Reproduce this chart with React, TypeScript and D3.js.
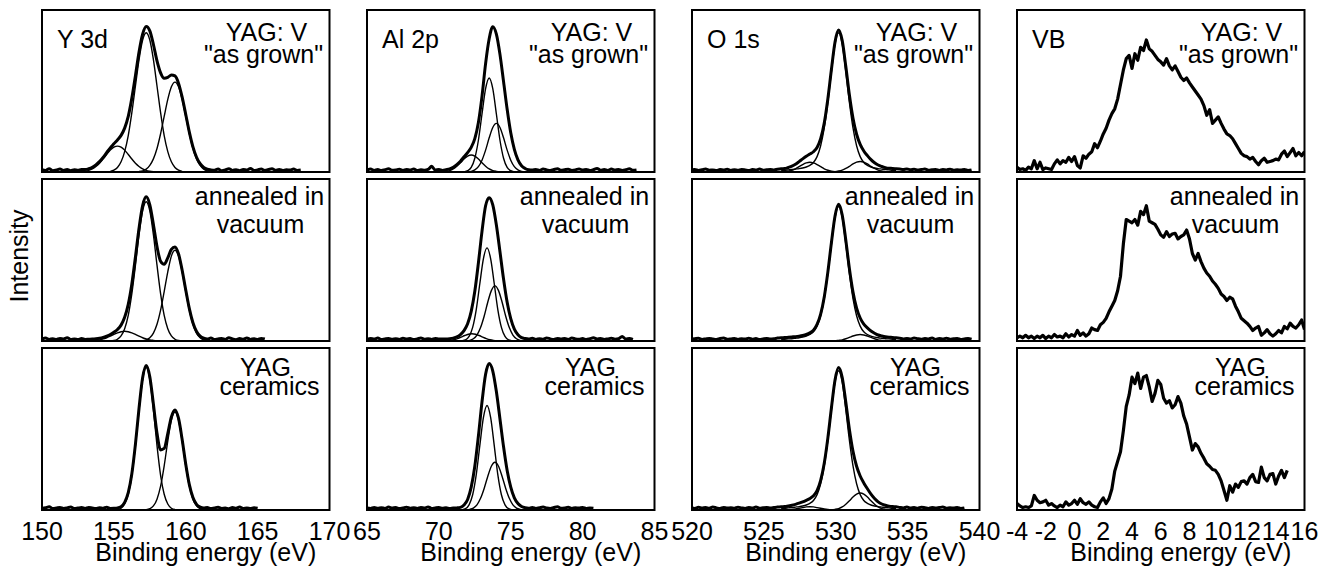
import React from "react";
import * as d3 from "d3";

type Pt = [number, number];

// values sampled on a fixed energy grid (start, step)
const sampled = (start: number, step: number, values: number[]): Pt[] =>
  values.map((v, i) => [start + i * step, v]);

// ---------- Y 3d ----------
const y3dTicks = [150, 155, 160, 165, 170];

const y3dGrown = sampled(150, 0.25, [
  0.015, 0.01, 0.02, 0.008, 0.012, 0.018, 0.01, 0.015, 0.008, 0.014, 0.011, 0.016, 0.015, 0.02, 0.029, 0.044,
  0.064, 0.09, 0.12, 0.149, 0.174, 0.198, 0.226, 0.271, 0.343, 0.456, 0.595, 0.741, 0.851, 0.898, 0.871, 0.787,
  0.686, 0.612, 0.578, 0.584, 0.599, 0.593, 0.547, 0.462, 0.355, 0.246, 0.155, 0.091, 0.051, 0.028, 0.017, 0.013,
  0.011, 0.018, 0.008, 0.012, 0.02, 0.01, 0.014, 0.008, 0.016, 0.012, 0.022, 0.009, 0.013, 0.018, 0.01, 0.015,
  0.02, 0.011, 0.016, 0.009, 0.014, 0.012, 0.018, 0.01, 0.012,
]);
const y3dGrownFit = [
  sampled(154.75, 0.25, [0.004, 0.011, 0.028, 0.063, 0.126, 0.225, 0.366, 0.531, 0.694, 0.815, 0.86, 0.815, 0.694, 0.531, 0.366, 0.225, 0.126, 0.063, 0.028, 0.011, 0.004]),
  sampled(156.75, 0.25, [0.003, 0.007, 0.018, 0.041, 0.081, 0.145, 0.236, 0.343, 0.448, 0.526, 0.555, 0.526, 0.448, 0.343, 0.236, 0.145, 0.081, 0.041, 0.018, 0.007, 0.003]),
  sampled(152.75, 0.25, [0.002, 0.005, 0.01, 0.019, 0.034, 0.054, 0.08, 0.108, 0.135, 0.153, 0.16, 0.153, 0.135, 0.108, 0.08, 0.054, 0.034, 0.019, 0.01, 0.005, 0.002]),
];

const y3dAnnealed = sampled(150, 0.25, [
  0.012, 0.018, 0.01, 0.014, 0.009, 0.016, 0.012, 0.02, 0.01, 0.013, 0.009, 0.015, 0.01, 0.011, 0.012, 0.014,
  0.017, 0.022, 0.03, 0.04, 0.054, 0.071, 0.098, 0.146, 0.226, 0.352, 0.519, 0.696, 0.836, 0.89, 0.841, 0.719,
  0.583, 0.492, 0.473, 0.513, 0.565, 0.581, 0.537, 0.437, 0.315, 0.2, 0.113, 0.059, 0.03, 0.017, 0.012, 0.018,
  0.009, 0.013, 0.016, 0.01, 0.02, 0.012, 0.008, 0.015, 0.011, 0.019, 0.01, 0.014, 0.009, 0.016, 0.012,
]);
const y3dAnnealedFit = [
  sampled(154.75, 0.25, [0.001, 0.003, 0.011, 0.031, 0.076, 0.158, 0.292, 0.468, 0.656, 0.804, 0.86, 0.804, 0.656, 0.468, 0.292, 0.158, 0.076, 0.031, 0.011, 0.003, 0.001]),
  sampled(156.75, 0.25, [0.001, 0.002, 0.007, 0.02, 0.049, 0.103, 0.19, 0.305, 0.427, 0.524, 0.56, 0.524, 0.427, 0.305, 0.19, 0.103, 0.049, 0.02, 0.007, 0.002, 0.001]),
  sampled(153.25, 0.25, [0.001, 0.002, 0.004, 0.007, 0.013, 0.02, 0.03, 0.041, 0.05, 0.057, 0.06, 0.057, 0.05, 0.041, 0.03, 0.02, 0.013, 0.007, 0.004, 0.002, 0.001]),
];

const y3dCeramics = sampled(150, 0.25, [
  0.01, 0.014, 0.02, 0.009, 0.012, 0.016, 0.01, 0.013, 0.018, 0.009, 0.012, 0.015, 0.01, 0.016, 0.012, 0.009,
  0.014, 0.011, 0.017, 0.01, 0.011, 0.013, 0.021, 0.047, 0.107, 0.224, 0.407, 0.628, 0.816, 0.892, 0.823, 0.653,
  0.474, 0.371, 0.38, 0.472, 0.575, 0.618, 0.565, 0.435, 0.283, 0.157, 0.077, 0.035, 0.018, 0.012, 0.015, 0.009,
  0.013, 0.017, 0.01, 0.012, 0.008, 0.015, 0.011, 0.018, 0.01, 0.013, 0.009, 0.014, 0.011,
]);
const y3dCeramicsFit = [
  sampled(155.25, 0.25, [0.003, 0.011, 0.037, 0.097, 0.214, 0.397, 0.618, 0.805, 0.88, 0.805, 0.618, 0.397, 0.214, 0.097, 0.037, 0.011, 0.003]),
  sampled(157.25, 0.25, [0.002, 0.008, 0.025, 0.067, 0.147, 0.273, 0.425, 0.554, 0.605, 0.554, 0.425, 0.273, 0.147, 0.067, 0.025, 0.008, 0.002]),
];

// ---------- Al 2p ----------
const alTicks = [65, 70, 75, 80, 85];

const alGrown = sampled(65, 0.25, [
  0.012, 0.018, 0.01, 0.015, 0.009, 0.014, 0.02, 0.011, 0.013, 0.017, 0.01, 0.015, 0.012, 0.019, 0.009, 0.014,
  0.011, 0.016, 0.035, 0.012, 0.015, 0.01,
  0.014, 0.019, 0.029, 0.046, 0.067, 0.094, 0.12, 0.152, 0.206, 0.306, 0.467, 0.669, 0.822, 0.897, 0.851, 0.726,
  0.558, 0.387, 0.242, 0.14, 0.075, 0.039, 0.022, 0.014,
  0.012, 0.016, 0.01, 0.018, 0.013, 0.009, 0.015, 0.02, 0.011, 0.014, 0.017, 0.01, 0.013, 0.019, 0.012, 0.016,
  0.009, 0.014, 0.022, 0.011, 0.015, 0.01, 0.018, 0.012, 0.016, 0.01, 0.014, 0.02, 0.011, 0.013,
]);
const alGrownFit = [
  sampled(71.5, 0.25, [0, 0.002, 0.008, 0.028, 0.085, 0.196, 0.358, 0.514, 0.58, 0.514, 0.358, 0.196, 0.085, 0.028, 0.008, 0.002, 0]),
  sampled(72.0, 0.25, [0.001, 0.004, 0.013, 0.033, 0.073, 0.135, 0.211, 0.275, 0.3, 0.275, 0.211, 0.135, 0.073, 0.033, 0.013, 0.004, 0.001]),
  sampled(69.75, 0.25, [0, 0, 0.001, 0.004, 0.009, 0.019, 0.036, 0.057, 0.08, 0.098, 0.105, 0.098, 0.08, 0.057, 0.036, 0.019, 0.009, 0.004, 0.001, 0, 0]),
];

const alAnnealed = sampled(65, 0.25, [
  0.01, 0.015, 0.012, 0.018, 0.009, 0.013, 0.016, 0.011, 0.014, 0.01, 0.017, 0.012, 0.015, 0.009, 0.013, 0.018,
  0.011, 0.014, 0.01, 0.016, 0.012, 0.013, 0.012,
  0.014, 0.018, 0.025, 0.04, 0.064, 0.106, 0.183, 0.307, 0.482, 0.677, 0.835, 0.885, 0.84, 0.716, 0.551, 0.382,
  0.239, 0.138, 0.074, 0.039, 0.021, 0.015,
  0.012, 0.017, 0.01, 0.014, 0.011, 0.019, 0.013, 0.009, 0.016, 0.012, 0.015, 0.01, 0.018, 0.013, 0.011, 0.015,
  0.009, 0.014, 0.02, 0.012, 0.016, 0.01, 0.013, 0.017, 0.011, 0.014, 0.028, 0.012, 0.015, 0.01,
]);
const alAnnealedFit = [
  sampled(71.35, 0.25, [0, 0.002, 0.007, 0.028, 0.084, 0.194, 0.355, 0.509, 0.575, 0.509, 0.355, 0.194, 0.084, 0.028, 0.007, 0.002, 0]),
  sampled(71.9, 0.25, [0.001, 0.004, 0.014, 0.037, 0.083, 0.153, 0.239, 0.311, 0.34, 0.311, 0.239, 0.153, 0.083, 0.037, 0.014, 0.004, 0.001]),
  sampled(69.8, 0.25, [0, 0, 0.001, 0.002, 0.004, 0.008, 0.015, 0.024, 0.034, 0.042, 0.045, 0.042, 0.034, 0.024, 0.015, 0.008, 0.004, 0.002, 0.001, 0, 0]),
];

const alCeramics = sampled(65, 0.25, [
  0.012, 0.009, 0.016, 0.011, 0.014, 0.01, 0.018, 0.012, 0.015, 0.009, 0.013, 0.017, 0.011, 0.014, 0.01, 0.016,
  0.012, 0.019, 0.01, 0.013, 0.015, 0.011, 0.014, 0.009, 0.012, 0.013,
  0.016, 0.031, 0.065, 0.141, 0.27, 0.457, 0.667, 0.838, 0.904, 0.858, 0.731, 0.562, 0.39, 0.244, 0.141, 0.075,
  0.04, 0.022, 0.014,
  0.011, 0.016, 0.01, 0.014, 0.018, 0.012, 0.009, 0.015, 0.02, 0.011, 0.013, 0.017, 0.01, 0.014, 0.012, 0.016,
  0.009, 0.013, 0.011,
]);
const alCeramicsFit = [
  sampled(71.35, 0.25, [0, 0.002, 0.008, 0.032, 0.094, 0.218, 0.399, 0.571, 0.645, 0.571, 0.399, 0.218, 0.094, 0.032, 0.008, 0.002, 0]),
  sampled(71.9, 0.25, [0.001, 0.004, 0.012, 0.032, 0.072, 0.133, 0.207, 0.27, 0.295, 0.27, 0.207, 0.133, 0.072, 0.032, 0.012, 0.004, 0.001]),
];

// ---------- O 1s ----------
const oTicks = [520, 525, 530, 535, 540];

const oGrown = sampled(519.95, 0.25, [
  0.012, 0.016, 0.01, 0.014, 0.018, 0.011, 0.013, 0.009, 0.015, 0.012, 0.017, 0.01, 0.014, 0.011, 0.016, 0.013,
  0.009, 0.015, 0.012, 0.018, 0.011, 0.014, 0.016, 0.013, 0.017,
  0.02, 0.021, 0.028, 0.036, 0.048, 0.064, 0.081, 0.097, 0.111, 0.125, 0.151, 0.205, 0.302, 0.451, 0.634, 0.803,
  0.876, 0.811, 0.651, 0.475, 0.332, 0.233, 0.17, 0.13, 0.101, 0.076, 0.057, 0.043, 0.034, 0.027, 0.023, 0.022, 0.02,
  0.018, 0.016, 0.019, 0.014, 0.017, 0.012, 0.015, 0.018, 0.011, 0.014, 0.016, 0.01, 0.015, 0.013, 0.017, 0.011,
  0.014, 0.012, 0.016, 0.01, 0.013,
]);
const oGrownFit = [
  sampled(526.2, 0.25, [0.01, 0.011, 0.013, 0.015, 0.018, 0.021, 0.025, 0.031, 0.041, 0.059, 0.095, 0.162, 0.272, 0.43, 0.619, 0.789, 0.86, 0.789, 0.619, 0.43, 0.272, 0.162, 0.095, 0.059, 0.041, 0.031, 0.025, 0.021, 0.018, 0.015, 0.013, 0.011, 0.01]),
  sampled(525.7, 0.25, [0, 0, 0.001, 0.002, 0.005, 0.011, 0.02, 0.033, 0.046, 0.056, 0.06, 0.056, 0.046, 0.033, 0.02, 0.011, 0.005, 0.002, 0.001, 0, 0]),
  sampled(529.2, 0.25, [0, 0, 0.001, 0.002, 0.006, 0.012, 0.022, 0.035, 0.05, 0.061, 0.065, 0.061, 0.05, 0.035, 0.022, 0.012, 0.006, 0.002, 0.001, 0, 0]),
];

const oAnnealed = sampled(519.95, 0.25, [
  0.011, 0.014, 0.017, 0.01, 0.013, 0.016, 0.012, 0.009, 0.015, 0.018, 0.011, 0.013, 0.016, 0.01, 0.014, 0.012,
  0.017, 0.011, 0.015, 0.009, 0.013, 0.016, 0.012, 0.014, 0.018,
  0.02, 0.021, 0.023, 0.025, 0.027, 0.03, 0.034, 0.04, 0.05, 0.067, 0.102, 0.166, 0.272, 0.425, 0.608, 0.772,
  0.844, 0.778, 0.622, 0.447, 0.303, 0.203, 0.142, 0.104, 0.081, 0.062, 0.048, 0.037, 0.031, 0.026, 0.023, 0.022, 0.02,
  0.017, 0.013, 0.016, 0.012, 0.019, 0.014, 0.011, 0.016, 0.013, 0.018, 0.01, 0.015, 0.012, 0.017, 0.011, 0.014,
  0.016, 0.01, 0.013, 0.015, 0.011,
]);
const oAnnealedFit = [
  sampled(526.2, 0.25, [0.01, 0.011, 0.013, 0.014, 0.017, 0.02, 0.024, 0.03, 0.04, 0.057, 0.092, 0.156, 0.262, 0.415, 0.598, 0.761, 0.83, 0.761, 0.598, 0.415, 0.262, 0.156, 0.092, 0.057, 0.04, 0.03, 0.024, 0.02, 0.017, 0.014, 0.013, 0.011, 0.01]),
  sampled(529.2, 0.25, [0, 0, 0.001, 0.001, 0.004, 0.007, 0.014, 0.022, 0.031, 0.037, 0.04, 0.037, 0.031, 0.022, 0.014, 0.007, 0.004, 0.001, 0.001, 0, 0]),
];

const oCeramics = sampled(519.95, 0.25, [
  0.014, 0.01, 0.017, 0.012, 0.015, 0.011, 0.018, 0.013, 0.009, 0.016, 0.012, 0.014, 0.011, 0.017, 0.013, 0.01,
  0.015, 0.012, 0.018, 0.011, 0.014, 0.016, 0.012, 0.015, 0.018,
  0.02, 0.021, 0.025, 0.029, 0.035, 0.042, 0.05, 0.06, 0.071, 0.088, 0.12, 0.183, 0.289, 0.444, 0.631, 0.803,
  0.879, 0.818, 0.665, 0.497, 0.362, 0.27, 0.21, 0.167, 0.131, 0.098, 0.071, 0.05, 0.037, 0.029, 0.024, 0.021, 0.02,
  0.016, 0.013, 0.018, 0.012, 0.015, 0.011, 0.017, 0.014, 0.01, 0.016, 0.012, 0.015, 0.018, 0.011, 0.014, 0.012,
  0.016, 0.01, 0.013,
]);
const oCeramicsFit = [
  sampled(526.2, 0.25, [0.01, 0.011, 0.013, 0.015, 0.018, 0.021, 0.025, 0.031, 0.041, 0.059, 0.095, 0.162, 0.272, 0.43, 0.619, 0.789, 0.86, 0.789, 0.619, 0.43, 0.272, 0.162, 0.095, 0.059, 0.041, 0.031, 0.025, 0.021, 0.018, 0.015, 0.013, 0.011, 0.01]),
  sampled(525.7, 0.25, [0, 0, 0, 0.001, 0.002, 0.004, 0.007, 0.011, 0.015, 0.019, 0.02, 0.019, 0.015, 0.011, 0.007, 0.004, 0.002, 0.001, 0, 0, 0]),
  sampled(529.2, 0.25, [0, 0, 0.001, 0.004, 0.009, 0.019, 0.036, 0.057, 0.08, 0.098, 0.105, 0.098, 0.08, 0.057, 0.036, 0.019, 0.009, 0.004, 0.001, 0, 0]),
];

// ---------- VB ----------
const vbTicks = [-4, -2, 0, 2, 4, 6, 8, 10, 12, 14, 16];

const vbGrown = sampled(-4, 0.2, [
  0.03, 0.015, 0.02, 0.01, 0.03, 0.02, 0.07, 0.02, 0.06, 0.015, 0.025, 0.02, 0.015, 0.05, 0.075, 0.05, 0.07, 0.06,
  0.09, 0.065, 0.095, 0.04, 0.025, 0.1, 0.085, 0.11, 0.125, 0.175, 0.15, 0.19, 0.235, 0.27, 0.32, 0.36, 0.39, 0.45,
  0.54, 0.63, 0.7, 0.72, 0.64, 0.73, 0.69, 0.77, 0.75, 0.815, 0.76, 0.745, 0.72, 0.695, 0.68, 0.66, 0.7, 0.655,
  0.63, 0.655, 0.62, 0.585, 0.565, 0.58, 0.55, 0.525, 0.5, 0.475, 0.45, 0.41, 0.35, 0.385, 0.3, 0.32, 0.34, 0.3,
  0.265, 0.235, 0.225, 0.205, 0.175, 0.145, 0.115, 0.1, 0.095, 0.08, 0.09, 0.065, 0.045, 0.07, 0.085, 0.06, 0.065,
  0.07, 0.08, 0.075, 0.11, 0.13, 0.095, 0.12, 0.145, 0.1, 0.12, 0.1, 0.125,
]);
const vbAnnealed = sampled(-4, 0.2, [
  0.02, 0.03, 0.02, 0.035, 0.02, 0.03, 0.015, 0.03, 0.02, 0.035, 0.015, 0.03, 0.02, 0.04, 0.025, 0.03, 0.02, 0.045,
  0.025, 0.04, 0.03, 0.065, 0.035, 0.05, 0.03, 0.045, 0.08, 0.07, 0.065, 0.1, 0.115, 0.14, 0.18, 0.215, 0.25, 0.31,
  0.4, 0.6, 0.75, 0.74, 0.73, 0.75, 0.715, 0.8, 0.78, 0.835, 0.74, 0.73, 0.72, 0.69, 0.655, 0.64, 0.675, 0.645,
  0.66, 0.665, 0.63, 0.645, 0.655, 0.685, 0.63, 0.54, 0.5, 0.54, 0.49, 0.45, 0.42, 0.4, 0.37, 0.35, 0.325, 0.29,
  0.275, 0.25, 0.27, 0.26, 0.215, 0.18, 0.14, 0.125, 0.11, 0.09, 0.065, 0.08, 0.09, 0.035, 0.05, 0.07, 0.045, 0.03,
  0.045, 0.065, 0.05, 0.09, 0.075, 0.11, 0.09, 0.08, 0.1, 0.13, 0.07,
]);
const vbCeramics = sampled(-4, 0.2, [
  0.04, 0.025, 0.015, 0.02, 0.015, 0.025, 0.09, 0.06, 0.045, 0.05, 0.06, 0.03, 0.04, 0.025, 0.015, 0.03, 0.02, 0.05,
  0.03, 0.04, 0.06, 0.035, 0.07, 0.045, 0.035, 0.05, 0.03, 0.02, 0.015, 0.05, 0.075, 0.04, 0.07, 0.13, 0.24, 0.3,
  0.36, 0.49, 0.64, 0.71, 0.82, 0.78, 0.845, 0.75, 0.82, 0.83, 0.76, 0.67, 0.72, 0.8, 0.775, 0.69, 0.66, 0.675,
  0.63, 0.65, 0.7, 0.66, 0.58, 0.53, 0.45, 0.37, 0.41, 0.39, 0.35, 0.32, 0.285, 0.27, 0.25, 0.245, 0.22, 0.18,
  0.12, 0.06, 0.15, 0.11, 0.16, 0.14, 0.175, 0.18, 0.16, 0.2, 0.22, 0.175, 0.17, 0.265, 0.2, 0.18, 0.22, 0.225,
  0.16, 0.21, 0.245, 0.2, 0.245,
]);

const sampleLabels = [
  ["YAG: V", "\"as grown\""],
  ["annealed in", "vacuum"],
  ["YAG", "ceramics"],
];

const columns = [
  { name: "Y 3d", domain: [150, 170], ticks: y3dTicks, spectra: [y3dGrown, y3dAnnealed, y3dCeramics], fits: [y3dGrownFit, y3dAnnealedFit, y3dCeramicsFit] },
  { name: "Al 2p", domain: [65, 85], ticks: alTicks, spectra: [alGrown, alAnnealed, alCeramics], fits: [alGrownFit, alAnnealedFit, alCeramicsFit] },
  { name: "O 1s", domain: [520, 540], ticks: oTicks, spectra: [oGrown, oAnnealed, oCeramics], fits: [oGrownFit, oAnnealedFit, oCeramicsFit] },
  { name: "VB", domain: [-4, 16], ticks: vbTicks, spectra: [vbGrown, vbAnnealed, vbCeramics], fits: [[], [], []] },
];

const W = 1334;
const H = 570;
const left0 = 42;
const colStep = 325;
const panelW = 287.5;
const top0 = 10;
const rowStep = 169;
const panelH = 162;
const font = "'Liberation Sans', Arial, sans-serif";
const fs = 25;
// label lines: [baseline from panel top, centre offset from panel right]
const labelPos = [
  [[30.5, -63], [53, -66]],
  [[26, -70], [54, -69]],
  [[28, -64], [47, -60]],
];

export default function App() {
  return (
    <svg width={W} height={H} style={{ position: "absolute", left: 0, top: 0, background: "#fff" }}>
      <rect width={W} height={H} fill="#fff" />
      {columns.map((col, c) => {
        const x0 = left0 + c * colStep;
        const x = d3.scaleLinear().domain(col.domain).range([x0, x0 + panelW]);
        const isVB = col.name === "VB";
        return (
          <g key={col.name}>
            {col.spectra.map((spec, r) => {
              const y0 = top0 + r * rowStep;
              const y = d3.scaleLinear().domain([0, 1]).range([y0 + panelH, y0]);
              const line = d3
                .line<Pt>()
                .x(d => x(d[0]))
                .y(d => y(d[1]))
                .curve(isVB ? d3.curveLinear : d3.curveMonotoneX);
              const clipId = `clip-${c}-${r}`;
              return (
                <g key={r}>
                  <clipPath id={clipId}>
                    <rect x={x0} y={y0} width={panelW} height={panelH} />
                  </clipPath>
                  <g clipPath={`url(#${clipId})`}>
                    {col.fits[r].map((f, i) => (
                      <path key={i} d={line(f) || ""} fill="none" stroke="#000" strokeWidth={1.4} />
                    ))}
                    <path d={line(spec) || ""} fill="none" stroke="#000" strokeWidth={isVB ? 3.2 : 3} strokeLinejoin="round" />
                  </g>
                  <rect x={x0} y={y0} width={panelW} height={panelH} fill="none" stroke="#000" strokeWidth={2} />
                  {r === 0 && (
                    <text x={x0 + 15} y={y0 + 38} fontFamily={font} fontSize={fs}>{col.name}</text>
                  )}
                  {sampleLabels[r].map((t, i) => (
                    <text key={i} x={x0 + panelW + labelPos[r][i][1]} y={y0 + labelPos[r][i][0]} fontFamily={font} fontSize={fs} textAnchor="middle">
                      {t}
                    </text>
                  ))}
                </g>
              );
            })}
            {col.ticks.map(t => (
              <text key={t} x={x(t)} y={540} fontFamily={font} fontSize={fs} textAnchor="middle">
                {t}
              </text>
            ))}
            <text x={x0 + panelW / 2 + 20} y={561} fontFamily={font} fontSize={fs} textAnchor="middle">
              Binding energy (eV)
            </text>
          </g>
        );
      })}
      <text transform="translate(28,256) rotate(-90)" fontFamily={font} fontSize={fs} textAnchor="middle">
        Intensity
      </text>
    </svg>
  );
}
